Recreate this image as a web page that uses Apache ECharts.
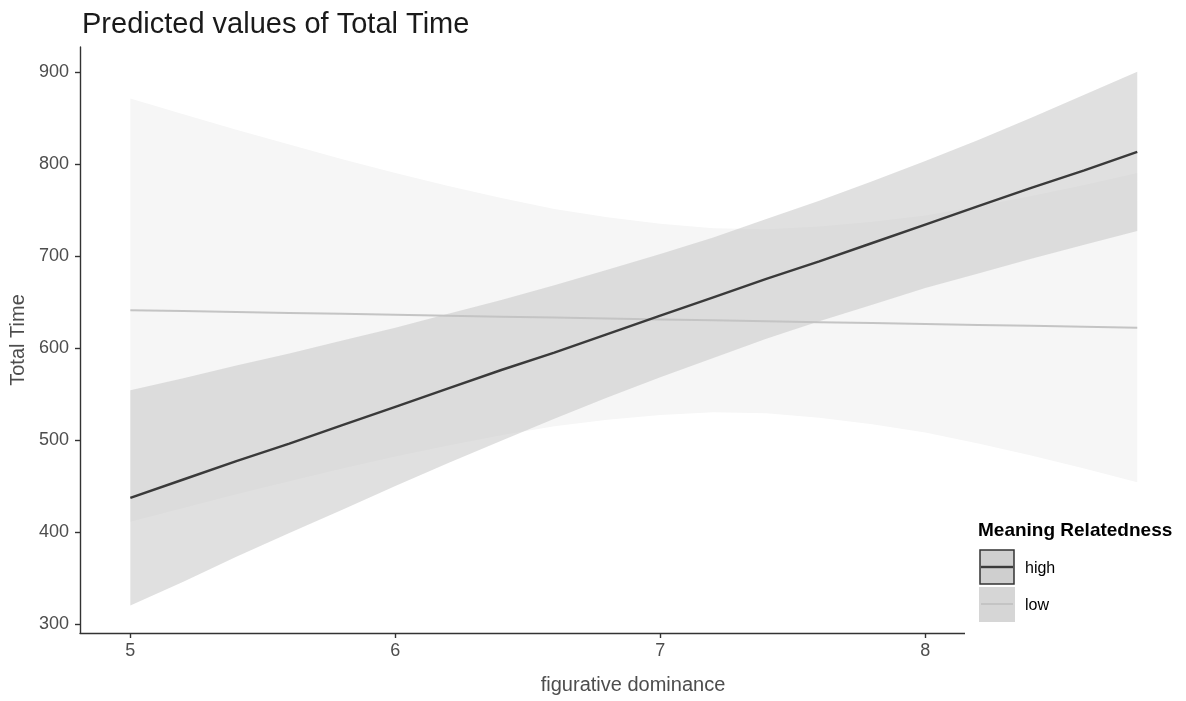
<!DOCTYPE html>
<html>
<head>
<meta charset="utf-8">
<script src="https://cdn.jsdelivr.net/npm/echarts@6/dist/echarts.min.js"></script>
<style>html,body{margin:0;padding:0;background:#fff;}#c{width:1186px;height:701px;}</style>
</head>
<body>
<div id="c"></div>
<script>
// ---- data ----
var xValues = [5, 5.2, 5.4, 5.6, 5.8, 6, 6.2, 6.4, 6.6, 6.8, 7, 7.2, 7.4, 7.6, 7.8, 8, 8.2, 8.4, 8.6, 8.8];
var highFit   = [437, 457, 477, 496, 516, 536, 556, 576, 595, 615, 635, 655, 675, 694, 714, 734, 754, 774, 793, 813];
var highUpper = [554, 567, 581, 594, 608, 622, 637, 652, 668, 685, 702, 720, 740, 760, 781, 803, 826, 850, 875, 900];
var highLower = [320, 346, 373, 399, 424, 450, 475, 499, 523, 546, 568, 589, 610, 629, 647, 665, 681, 697, 712, 727];
var lowFit    = [641, 640, 639, 638, 637, 636, 635, 634, 633, 632, 631, 630, 629, 628, 627, 626, 625, 624, 623, 622];
var lowUpper  = [871, 854, 837, 821, 805, 790, 776, 763, 751, 742, 735, 730, 729, 732, 737, 744, 754, 765, 777, 790];
var lowLower  = [411, 426, 441, 455, 469, 482, 494, 505, 515, 522, 527, 530, 529, 524, 517, 508, 496, 483, 469, 454];
var xTicks = [5, 6, 7, 8];
var yTicks = [300, 400, 500, 600, 700, 800, 900];
var groupLabels = ['high', 'low'];
var chartTitle = 'Predicted values of Total Time';
var xTitle = 'figurative dominance';
var yTitle = 'Total Time';
var legendTitle = 'Meaning Relatedness';

var FONT = 'Liberation Sans, Arial, sans-serif';

function pairs(ys) { return xValues.map(function (x, i) { return [x, ys[i]]; }); }

function bandSeries(upper, lower, fill, z) {
  return {
    type: 'custom',
    z: z,
    silent: true,
    clip: false,
    data: xValues.map(function (x, i) { return [x, upper[i], lower[i]]; }),
    encode: { x: 0, y: [1, 2] },
    renderItem: function (params, api) {
      if (params.dataIndex !== 0) return null;
      var pts = [];
      for (var i = 0; i < xValues.length; i++) pts.push(api.coord([xValues[i], upper[i]]));
      for (var j = xValues.length - 1; j >= 0; j--) pts.push(api.coord([xValues[j], lower[j]]));
      return { type: 'polygon', shape: { points: pts }, style: { fill: fill, stroke: null } };
    }
  };
}

var chart = echarts.init(document.getElementById('c'), null, { renderer: 'canvas' });
chart.setOption({
  backgroundColor: '#ffffff',
  animation: false,
  title: {
    text: chartTitle, left: 77, top: 5,
    textStyle: { fontFamily: FONT, fontSize: 29, fontWeight: 'normal', color: '#1a1a1a' }
  },
  grid: { left: 80, right: 0, top: 47, bottom: 68, containLabel: false },
  xAxis: {
    type: 'value', min: 4.81, max: 8.984,
    name: xTitle, nameLocation: 'middle', nameGap: 42,
    nameTextStyle: { fontFamily: FONT, fontSize: 20, color: '#4d4d4d' },
    splitLine: { show: false },
    axisLine: { show: true, onZero: false, lineStyle: { color: '#333', width: 1.4 } },
    axisTick: { show: true, length: 5, customValues: xTicks, lineStyle: { color: '#333', width: 1.4 } },
    axisLabel: { customValues: xTicks, margin: 9, fontFamily: FONT, fontSize: 18, color: '#4d4d4d' }
  },
  yAxis: {
    type: 'value', min: 290.2, max: 927,
    name: yTitle, nameLocation: 'middle', nameGap: 51, nameRotate: 90,
    nameTextStyle: { fontFamily: FONT, fontSize: 20, color: '#4d4d4d' },
    splitLine: { show: false },
    axisLine: { show: true, onZero: false, lineStyle: { color: '#333', width: 1.4 } },
    axisTick: { show: true, length: 5, customValues: yTicks, lineStyle: { color: '#333', width: 1.4 } },
    axisLabel: { customValues: yTicks, margin: 11, fontFamily: FONT, fontSize: 18, color: '#4d4d4d' }
  },
  series: [
    bandSeries(lowUpper, lowLower, '#f6f6f6', 1),
    bandSeries(highUpper, highLower, 'rgba(200,200,200,0.56)', 2),
    {
      type: 'line', name: groupLabels[1], data: pairs(lowFit), z: 3, clip: false,
      showSymbol: false, silent: true,
      lineStyle: { color: '#c4c4c4', width: 2 }
    },
    {
      type: 'line', name: groupLabels[0], data: pairs(highFit), z: 4, clip: false,
      showSymbol: false, silent: true,
      lineStyle: { color: '#3a3a3a', width: 2.4 }
    }
  ],
  graphic: [
    { type: 'rect', z: 100, shape: { x: 965, y: 505, width: 221, height: 135 }, style: { fill: '#ffffff' } },
    { type: 'text', z: 101, left: 978, top: 521, style: { text: legendTitle, font: 'bold 19px ' + FONT, fill: '#000' } },
    { type: 'rect', z: 101, shape: { x: 980, y: 550, width: 34, height: 34 }, style: { fill: '#cfcfcf', stroke: '#333', lineWidth: 1.5 } },
    { type: 'line', z: 102, shape: { x1: 981, y1: 567, x2: 1013, y2: 567 }, style: { stroke: '#3a3a3a', lineWidth: 2.4 } },
    { type: 'rect', z: 101, shape: { x: 979, y: 587, width: 36, height: 35 }, style: { fill: '#d6d6d6' } },
    { type: 'line', z: 102, shape: { x1: 981, y1: 604, x2: 1013, y2: 604 }, style: { stroke: '#c4c4c4', lineWidth: 2 } },
    { type: 'text', z: 101, left: 1025, top: 561, style: { text: groupLabels[0], font: '16px ' + FONT, fill: '#000' } },
    { type: 'text', z: 101, left: 1025, top: 598, style: { text: groupLabels[1], font: '16px ' + FONT, fill: '#000' } }
  ]
});
</script>
</body>
</html>
